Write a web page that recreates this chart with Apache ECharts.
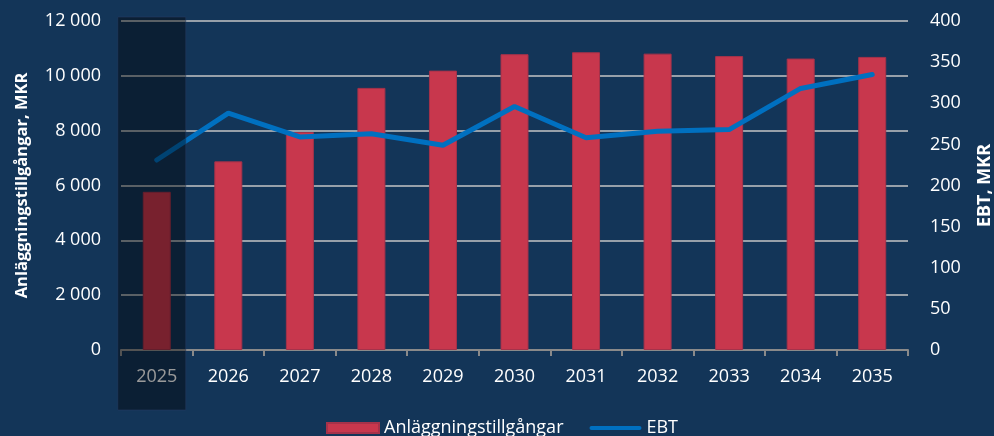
<!DOCTYPE html>
<html>
<head>
<meta charset="utf-8">
<script src="https://cdn.jsdelivr.net/npm/echarts@6/dist/echarts.min.js"></script>
<style>
html,body{margin:0;padding:0;background:#133558;}
#container{width:994px;height:436px;}
</style>
</head>
<body>
<div id="container"></div>
<script>
var years = ['2025','2026','2027','2028','2029','2030','2031','2032','2033','2034','2035'];
var assets = [5770, 6880, 7950, 9560, 10190, 10790, 10860, 10810, 10720, 10630, 10690];
var ebt = [231, 288, 259, 263, 249, 296, 258, 266, 268, 318, 335];
var leftTicks = {min: 0, max: 12000, step: 2000};
var rightTicks = {min: 0, max: 400, step: 50};

var dom = document.getElementById('container');
var myChart = echarts.init(dom);
var font = '"Open Sans", "Noto Sans", sans-serif';

function spaced(v){
    return String(v).replace(/\B(?=(\d{3})+(?!\d))/g, ' ');
}

var option = {
    backgroundColor: '#133558',
    animation: false,
    textStyle: {fontFamily: font},
    grid: {left: 121, right: 86, top: 21, bottom: 86, outerBoundsMode: 'none', containLabel: false},
    legend: {
        top: 414,
        left: 321,
        itemGap: 26,
        itemWidth: 52,
        itemHeight: 10,
        textStyle: {color: '#ffffff', fontSize: 18, fontFamily: font},
        data: [
            {name: 'Anläggningstillgångar', icon: 'rect'},
            {name: 'EBT', icon: 'path://M2,0 L50,0 A2,2 0 0 1 50,4 L2,4 A2,2 0 0 1 2,0 Z'}
        ]
    },
    xAxis: {
        type: 'category',
        data: years,
        axisLine: {lineStyle: {color: '#8a8a8a', width: 2}},
        axisTick: {show: true, length: 6, lineStyle: {color: '#8a8a8a', width: 2}},
        axisLabel: {color: '#ffffff', fontSize: 18, margin: 18, fontFamily: font}
    },
    yAxis: [{
        type: 'value',
        min: leftTicks.min,
        max: leftTicks.max,
        interval: leftTicks.step,
        name: 'Anläggningstillgångar, MKR',
        nameLocation: 'middle',
        nameRotate: 90,
        nameGap: 90,
        nameTextStyle: {color: '#ffffff', fontSize: 16.5, fontWeight: 'bold', fontFamily: font},
        axisLine: {show: false},
        axisTick: {show: false},
        axisLabel: {color: '#ffffff', fontSize: 18, margin: 20, fontFamily: font,
            formatter: function (v) { return spaced(v); }},
        splitLine: {lineStyle: {color: '#c4c4c4', width: 1.5}}
    }, {
        type: 'value',
        min: rightTicks.min,
        max: rightTicks.max,
        interval: rightTicks.step,
        name: 'EBT, MKR',
        nameLocation: 'middle',
        nameRotate: 90,
        nameGap: 68,
        nameTextStyle: {color: '#ffffff', fontSize: 18, fontWeight: 'bold', fontFamily: font},
        axisLine: {show: false},
        axisTick: {show: false},
        axisLabel: {color: '#ffffff', fontSize: 18, margin: 22, fontFamily: font},
        splitLine: {show: false}
    }],
    series: [{
        name: 'Anläggningstillgångar',
        type: 'bar',
        data: assets,
        barWidth: 28,
        itemStyle: {color: '#c8374d', borderColor: '#a5324a', borderWidth: 1}
    }, {
        name: 'EBT',
        type: 'line',
        yAxisIndex: 1,
        data: ebt,
        symbol: 'none',
        showSymbol: false,
        lineStyle: {color: '#0070c0', width: 5, cap: 'round'},
        itemStyle: {color: '#0070c0'}
    }]
};
myChart.setOption(option);

// dark overlay on the first year (actual year)
var cx = myChart.convertToPixel({xAxisIndex: 0}, years[0]);
var topY = myChart.convertToPixel({yAxisIndex: 0}, leftTicks.max);
myChart.setOption({
    graphic: [{
        type: 'rect',
        z: 100,
        shape: {x: cx - 39, y: topY - 4, width: 68, height: 393},
        style: {fill: 'rgba(0,0,0,0.4)', stroke: 'rgba(40,60,100,0.5)', lineWidth: 1}
    }]
});
</script>
</body>
</html>
